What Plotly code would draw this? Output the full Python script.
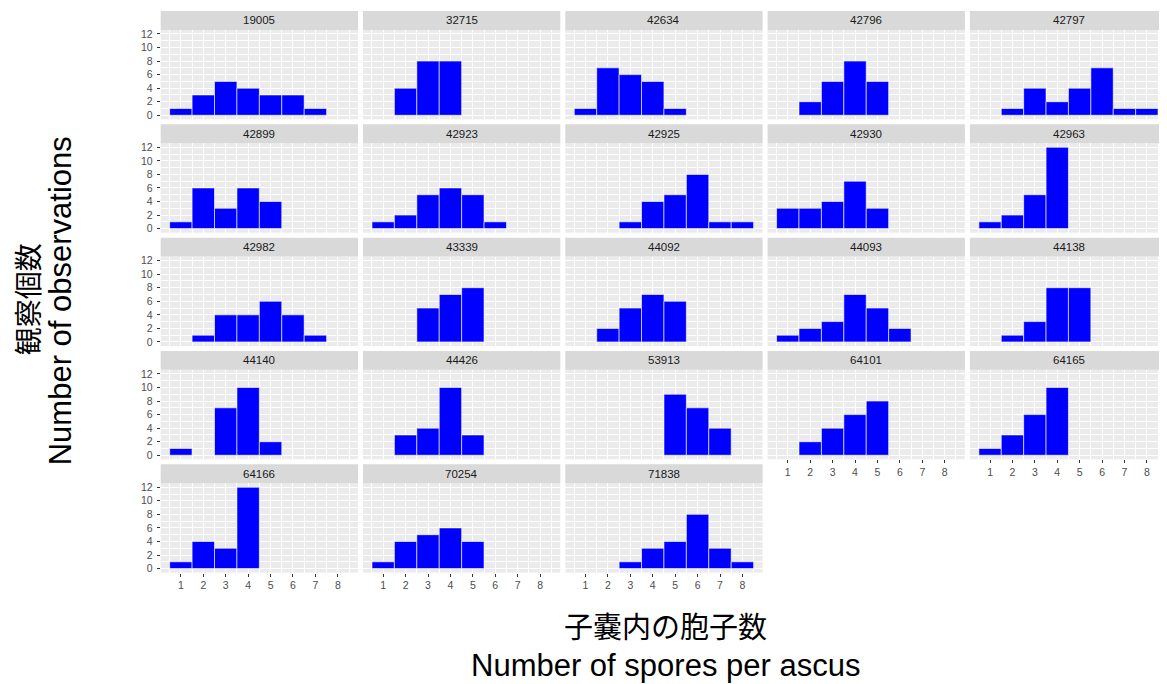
import plotly.graph_objects as go

# ---- data ----
spore_numbers = [1, 2, 3, 4, 5, 6, 7, 8]
strains = ["19005", "32715", "42634", "42796", "42797",
           "42899", "42923", "42925", "42930", "42963",
           "42982", "43339", "44092", "44093", "44138",
           "44140", "44426", "53913", "64101", "64165",
           "64166", "70254", "71838"]

c19005 = [1, 3, 5, 4, 3, 3, 1, 0]
c32715 = [0, 4, 8, 8, 0, 0, 0, 0]
c42634 = [1, 7, 6, 5, 1, 0, 0, 0]
c42796 = [0, 2, 5, 8, 5, 0, 0, 0]
c42797 = [0, 1, 4, 2, 4, 7, 1, 1]
c42899 = [1, 6, 3, 6, 4, 0, 0, 0]
c42923 = [1, 2, 5, 6, 5, 1, 0, 0]
c42925 = [0, 0, 1, 4, 5, 8, 1, 1]
c42930 = [3, 3, 4, 7, 3, 0, 0, 0]
c42963 = [1, 2, 5, 12, 0, 0, 0, 0]
c42982 = [0, 1, 4, 4, 6, 4, 1, 0]
c43339 = [0, 0, 5, 7, 8, 0, 0, 0]
c44092 = [0, 2, 5, 7, 6, 0, 0, 0]
c44093 = [1, 2, 3, 7, 5, 2, 0, 0]
c44138 = [0, 1, 3, 8, 8, 0, 0, 0]
c44140 = [1, 0, 7, 10, 2, 0, 0, 0]
c44426 = [0, 3, 4, 10, 3, 0, 0, 0]
c53913 = [0, 0, 0, 0, 9, 7, 4, 0]
c64101 = [0, 2, 4, 6, 8, 0, 0, 0]
c64165 = [1, 3, 6, 10, 0, 0, 0, 0]
c64166 = [1, 4, 3, 12, 0, 0, 0, 0]
c70254 = [1, 4, 5, 6, 4, 0, 0, 0]
c71838 = [0, 0, 1, 3, 4, 8, 3, 1]

counts = [c19005, c32715, c42634, c42796, c42797,
          c42899, c42923, c42925, c42930, c42963,
          c42982, c43339, c44092, c44093, c44138,
          c44140, c44426, c53913, c64101, c64165,
          c64166, c70254, c71838]

y_ticks = [0, 2, 4, 6, 8, 10, 12]

x_title_ja = "子嚢内の胞子数"
x_title_en = "Number of spores per ascus"
y_title_ja = "観察個数"
y_title_en = "Number of observations"

# ---- layout geometry (window pixels) ----
WIN_W, WIN_H = 1167, 684
OFF = 8  # default page body margin
W, H = WIN_W - OFF, WIN_H - OFF


def px(x):
    return (x - OFF) / W


def py(y):
    return 1 - (y - OFF) / H


n_cols = 5
col_left0, col_w, col_step = 160.7, 197.3, 202.3
row_top0, panel_h, row_step, strip_h = 28.0, 90.0, 114.0, 19.0

EN = "Liberation Sans, Arial, sans-serif"
JA = "Noto Sans CJK JP, sans-serif"

fig = go.Figure()
layout_axes = {}
shapes = []
annotations = []

for i, (name, cnt) in enumerate(zip(strains, counts)):
    r, c = divmod(i, n_cols)
    xs = [x for x, v in zip(spore_numbers, cnt) if v > 0]
    ys = [v for v in cnt if v > 0]
    sfx = "" if i == 0 else str(i + 1)
    fig.add_trace(go.Bar(
        x=xs, y=ys, width=1.0,
        xaxis="x" + sfx, yaxis="y" + sfx,
        marker=dict(color="#0000FF", line=dict(color="#FFFFFF", width=0.6)),
        showlegend=False, name=name,
    ))
    left = col_left0 + c * col_step
    top = row_top0 + r * row_step
    xdom = [px(left), min(px(left + col_w), 1.0)]
    ydom = [py(top + panel_h), py(top)]
    is_bottom = (i + n_cols) >= len(strains)
    is_left = c == 0

    layout_axes["xaxis" + sfx] = dict(
        domain=xdom, anchor="y" + sfx, range=[0.1, 8.9],
        tickmode="array", tickvals=spore_numbers,
        ticktext=[str(v) for v in spore_numbers],
        showticklabels=is_bottom,
        ticks="outside" if is_bottom else "", ticklen=3, tickwidth=1,
        tickcolor="#333333",
        tickfont=dict(family=EN, size=10.5, color="#4D4D4D"),
        showgrid=True, gridcolor="#FFFFFF", gridwidth=1.1,
        minor=dict(tickmode="array", tickvals=[v + 0.5 for v in [0] + spore_numbers],
                   showgrid=True, gridcolor="#FFFFFF", gridwidth=0.5, ticks=""),
        zeroline=False, showline=False, fixedrange=True,
    )
    layout_axes["yaxis" + sfx] = dict(
        domain=ydom, anchor="x" + sfx, range=[-0.6, 12.6],
        tickmode="array", tickvals=y_ticks,
        ticktext=[str(v) for v in y_ticks],
        showticklabels=is_left,
        ticks="outside" if is_left else "", ticklen=3, tickwidth=1,
        tickcolor="#333333", ticklabelstandoff=2,
        tickfont=dict(family=EN, size=10.5, color="#4D4D4D"),
        showgrid=True, gridcolor="#FFFFFF", gridwidth=1.1,
        minor=dict(tickmode="array", tickvals=[v + 1 for v in y_ticks],
                   showgrid=True, gridcolor="#FFFFFF", gridwidth=0.5, ticks=""),
        zeroline=False, showline=False, fixedrange=True,
    )
    # strip
    shapes.append(dict(
        type="rect", xref="paper", yref="paper", layer="below",
        x0=xdom[0], x1=xdom[1],
        y0=py(top), y1=py(top - strip_h),
        fillcolor="#D9D9D9", line=dict(width=0),
    ))
    annotations.append(dict(
        text=name, xref="paper", yref="paper",
        x=px(left + col_w / 2), y=py(top - strip_h / 2),
        xanchor="center", yanchor="middle", showarrow=False,
        font=dict(family=EN, size=11.5, color="#1A1A1A"),
    ))

annotations += [
    dict(text=x_title_ja, xref="paper", yref="paper", x=px(666), y=py(627),
         xanchor="center", yanchor="middle", showarrow=False,
         font=dict(family=JA, size=29, color="#000000")),
    dict(text=x_title_en, xref="paper", yref="paper", x=px(666), y=py(667),
         xanchor="center", yanchor="middle", showarrow=False,
         font=dict(family=EN, size=31, color="#000000")),
    dict(text=y_title_ja, xref="paper", yref="paper", x=px(27), y=py(299),
         xanchor="center", yanchor="middle", showarrow=False, textangle=-90,
         borderpad=0,
         font=dict(family=JA, size=28, color="#000000")),
    dict(text=y_title_en, xref="paper", yref="paper", x=px(60), y=py(301),
         xanchor="center", yanchor="middle", showarrow=False, textangle=-90,
         font=dict(family=EN, size=31, color="#000000")),
]

fig.update_layout(
    width=W, height=H,
    margin=dict(l=0, r=0, t=0, b=0),
    paper_bgcolor="#FFFFFF", plot_bgcolor="#EBEBEB",
    shapes=shapes, annotations=annotations,
    barmode="overlay", showlegend=False,
    **layout_axes,
)

fig.write_html("out.html", config={"displayModeBar": False})
